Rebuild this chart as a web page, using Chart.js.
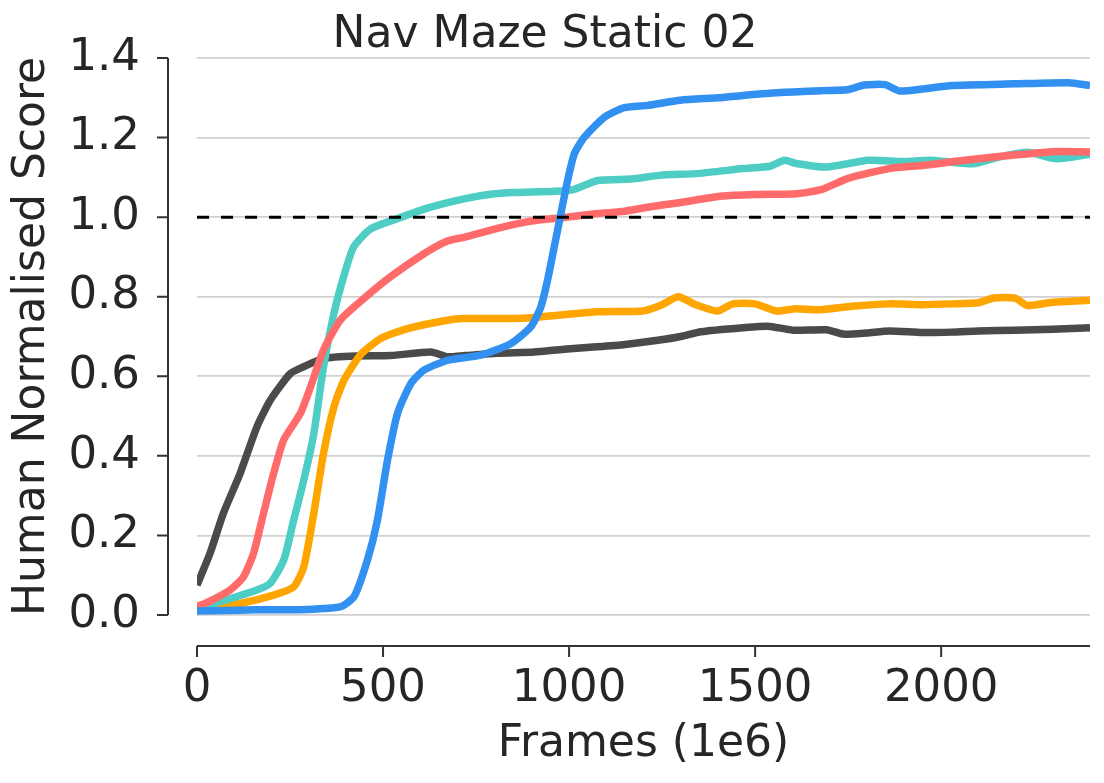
<!DOCTYPE html>
<html>
<head>
<meta charset="utf-8">
<script src="https://cdn.jsdelivr.net/npm/chart.js@4.4.0/dist/chart.umd.min.js"></script>
<style>
  html, body { margin: 0; padding: 0; background: #fff; }
  #wrap { width: 1104px; height: 783px; }
</style>
</head>
<body>
<div id="wrap"><canvas id="chart" width="1104" height="783"></canvas></div>
<script>
// ── Nav Maze Static 02 — human normalised score vs frames (1e6)

// ── DATA ──
const TITLE = 'Nav Maze Static 02';
const X_LABEL = 'Frames (1e6)';
const Y_LABEL = 'Human Normalised Score';

const xTicks = [0, 500, 1000, 1500, 2000];
const yTicks = [0.0, 0.2, 0.4, 0.6, 0.8, 1.0, 1.2, 1.4];

const humanFrames = [0, 2400];
const humanScore  = [1.0, 1.0];

const blueFrames = [0, 161, 296, 386, 422, 458, 485, 512, 539, 575, 611, 673, 762, 843, 897, 924, 942, 960, 978, 996, 1014, 1041, 1095, 1148, 1211, 1299, 1400, 1467, 1579, 1680, 1748, 1793, 1849, 1888, 1950, 2029, 2197, 2343, 2400];
const blueScore  = [0.010, 0.013, 0.014, 0.021, 0.046, 0.138, 0.239, 0.389, 0.507, 0.582, 0.616, 0.640, 0.653, 0.682, 0.724, 0.774, 0.841, 0.925, 1.009, 1.092, 1.159, 1.201, 1.251, 1.275, 1.281, 1.294, 1.300, 1.306, 1.314, 1.318, 1.320, 1.332, 1.333, 1.317, 1.322, 1.331, 1.335, 1.338, 1.331];

const redFrames = [0, 35, 89, 125, 152, 179, 206, 233, 278, 305, 340, 385, 448, 520, 610, 673, 720, 807, 897, 986, 1077, 1150, 1211, 1300, 1411, 1500, 1613, 1680, 1748, 1860, 1950, 2029, 2100, 2197, 2310, 2400];
const redScore  = [0.021, 0.035, 0.063, 0.096, 0.155, 0.256, 0.356, 0.440, 0.507, 0.573, 0.666, 0.741, 0.795, 0.850, 0.908, 0.940, 0.950, 0.972, 0.990, 0.999, 1.009, 1.015, 1.025, 1.037, 1.053, 1.057, 1.059, 1.070, 1.097, 1.122, 1.130, 1.139, 1.147, 1.156, 1.165, 1.164];

const tealFrames = [0, 71, 161, 197, 233, 260, 287, 314, 340, 368, 394, 421, 466, 538, 628, 717, 794, 850, 962, 1014, 1077, 1167, 1243, 1350, 1467, 1540, 1579, 1610, 1692, 1804, 1900, 1973, 2085, 2150, 2231, 2310, 2400];
const tealScore  = [0.017, 0.036, 0.063, 0.080, 0.138, 0.239, 0.339, 0.456, 0.624, 0.758, 0.850, 0.925, 0.970, 0.996, 1.025, 1.046, 1.058, 1.062, 1.065, 1.070, 1.092, 1.096, 1.105, 1.110, 1.122, 1.128, 1.143, 1.135, 1.126, 1.143, 1.140, 1.143, 1.134, 1.150, 1.163, 1.147, 1.158];

const orangeFrames = [0, 116, 206, 260, 287, 314, 340, 368, 395, 440, 494, 566, 673, 717, 850, 897, 1074, 1197, 1250, 1293, 1340, 1399, 1440, 1500, 1557, 1610, 1669, 1760, 1860, 1950, 2029, 2100, 2141, 2200, 2231, 2300, 2400];
const orangeScore  = [0.013, 0.029, 0.050, 0.071, 0.121, 0.256, 0.406, 0.523, 0.590, 0.655, 0.695, 0.720, 0.741, 0.745, 0.745, 0.747, 0.762, 0.764, 0.780, 0.800, 0.780, 0.764, 0.782, 0.782, 0.764, 0.770, 0.767, 0.776, 0.782, 0.780, 0.782, 0.785, 0.797, 0.796, 0.778, 0.786, 0.791];

const grayFrames = [0, 35, 71, 116, 161, 197, 251, 287, 340, 430, 520, 628, 673, 720, 807, 906, 986, 1074, 1150, 1243, 1300, 1355, 1467, 1534, 1601, 1692, 1737, 1800, 1860, 1950, 2029, 2100, 2197, 2300, 2400];
const grayScore  = [0.075, 0.155, 0.256, 0.356, 0.473, 0.540, 0.607, 0.624, 0.645, 0.651, 0.652, 0.661, 0.649, 0.652, 0.658, 0.661, 0.668, 0.674, 0.680, 0.691, 0.700, 0.712, 0.722, 0.726, 0.716, 0.717, 0.706, 0.709, 0.714, 0.710, 0.711, 0.714, 0.716, 0.718, 0.722];

// ── HELPERS ──
const FONT = "'DejaVu Sans', sans-serif";
const INK = '#262626';

function pts(xs, ys) {
  return xs.map((x, i) => ({ x: x, y: ys[i] }));
}

function ls(color, order) {
  return {
    borderColor: color,
    backgroundColor: 'transparent',
    borderWidth: 7.5,
    pointRadius: 0,
    tension: 0.2,
    borderJoinStyle: 'round',
    borderCapStyle: 'butt',
    order: order
  };
}

// fixed tick positions, no extra label padding at the ends
function fixTicks(list) {
  return s => { s.ticks = list.map(v => ({ value: v })); };
}

// ── OFFSET SPINES (seaborn despine(offset) look) ──
const spines = {
  id: 'spines',
  afterDraw(chart) {
    const { ctx, chartArea, scales } = chart;
    const xs = scales.x, ys = scales.y;
    const sx = chartArea.left - 29;
    const sy = chartArea.bottom + 31;
    ctx.save();
    ctx.strokeStyle = '#333333';
    ctx.lineWidth = 2;
    ctx.beginPath();
    ctx.moveTo(sx, ys.getPixelForValue(yTicks[yTicks.length - 1]));
    ctx.lineTo(sx, ys.getPixelForValue(yTicks[0]));
    yTicks.forEach(v => {
      const p = ys.getPixelForValue(v);
      ctx.moveTo(sx - 11, p);
      ctx.lineTo(sx, p);
    });
    ctx.moveTo(xs.getPixelForValue(xs.min), sy);
    ctx.lineTo(xs.getPixelForValue(xs.max), sy);
    xTicks.forEach(v => {
      const p = xs.getPixelForValue(v);
      ctx.moveTo(p, sy);
      ctx.lineTo(p, sy + 11);
    });
    ctx.stroke();
    ctx.restore();
  }
};

// ── CHART ──
new Chart(document.getElementById('chart').getContext('2d'), {
  type: 'line',
  data: {
    datasets: [
      { label: 'human', data: pts(humanFrames, humanScore), ...ls('#000000', 0), borderWidth: 3, borderDash: [12, 12], tension: 0 },
      { label: 'blue',   data: pts(blueFrames, blueScore),     ...ls('#3190f0', 1) },
      { label: 'red',    data: pts(redFrames, redScore),       ...ls('#ff6b6b', 2) },
      { label: 'teal',   data: pts(tealFrames, tealScore),     ...ls('#4ecdc4', 3) },
      { label: 'orange', data: pts(orangeFrames, orangeScore), ...ls('#ffa500', 4) },
      { label: 'gray',   data: pts(grayFrames, grayScore),     ...ls('#4a4a4a', 5) }
    ]
  },
  options: {
    animation: false,
    responsive: false,
    maintainAspectRatio: false,
    layout: { padding: { left: 0, right: 14, top: 0, bottom: 0 } },
    plugins: {
      legend: { display: false },
      tooltip: { enabled: false },
      title: {
        display: true,
        text: TITLE,
        color: INK,
        font: { family: FONT, size: 44, weight: 'normal', lineHeight: 1 },
        padding: { top: 14, bottom: 0 }
      }
    },
    scales: {
      x: {
        type: 'linear',
        min: 0,
        max: 2400,
        afterBuildTicks: fixTicks(xTicks),
        afterFit: s => { s.height = 168; s.paddingLeft = 0; s.paddingRight = 0; },
        grid: { display: false, drawTicks: false },
        border: { display: false },
        ticks: {
          autoSkip: false,
          maxRotation: 0,
          padding: 52,
          color: INK,
          font: { family: FONT, size: 45, lineHeight: 1 },
          callback: v => String(v)
        },
        title: {
          display: true,
          text: X_LABEL,
          color: INK,
          font: { family: FONT, size: 44, lineHeight: 1 },
          padding: { top: 0, bottom: 16 }
        }
      },
      y: {
        min: 0,
        max: 1.4,
        afterBuildTicks: fixTicks(yTicks),
        afterFit: s => { s.width = 197; s.paddingTop = 0; s.paddingBottom = 0; },
        grid: { color: '#d0d0d0', lineWidth: 1.8, drawTicks: false },
        border: { display: false },
        ticks: {
          autoSkip: false,
          padding: 57,
          color: INK,
          font: { family: FONT, size: 45, lineHeight: 1 },
          callback: v => Number(v).toFixed(1)
        },
        title: {
          display: true,
          text: Y_LABEL,
          color: INK,
          font: { family: FONT, size: 44, lineHeight: 1 },
          padding: { top: 11, bottom: 0 }
        }
      }
    }
  },
  plugins: [spines]
});
</script>
</body>
</html>
